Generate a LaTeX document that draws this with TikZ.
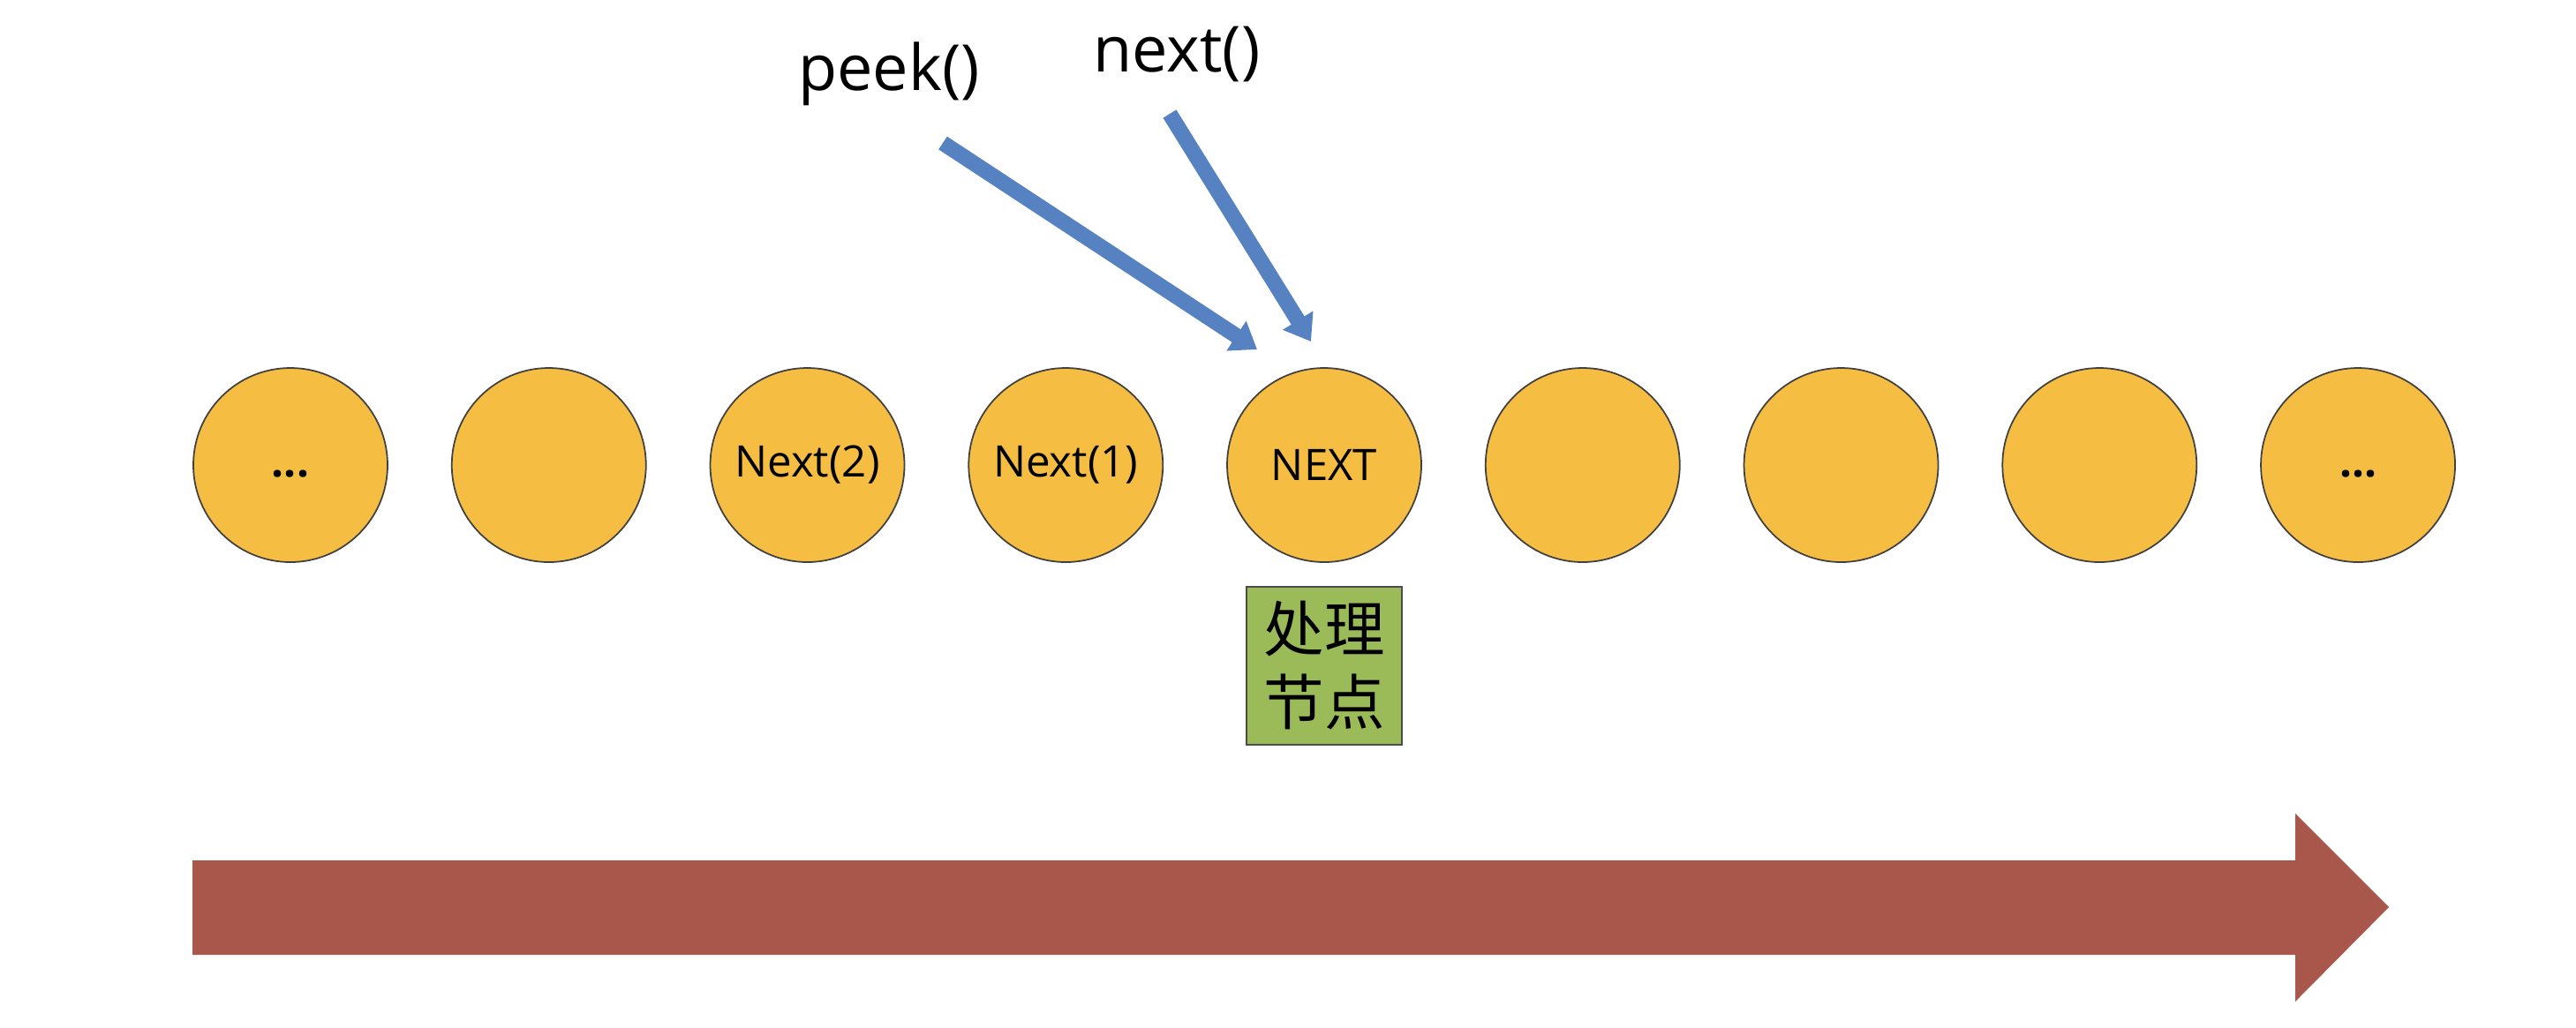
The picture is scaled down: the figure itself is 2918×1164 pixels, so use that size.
\documentclass[tikz,border=0pt]{standalone}
\usepackage{fontspec}
\setmainfont{Open Sans}
\newfontfamily\cjkfont{Noto Sans CJK SC}
\usetikzlibrary{arrows.meta,chains,positioning,scopes}
\definecolor{nodeorange}{HTML}{F5BD42}
\definecolor{procgreen}{HTML}{9BBB59}
\definecolor{ptrblue}{HTML}{5682C2}
\definecolor{flowred}{HTML}{A8574A}
\tikzset{>={Triangle[length=8pt,width=11pt]},
         elem/.style={circle,draw=black!75,line width=0.5pt,fill=nodeorange,
           minimum size=22mm,inner sep=0pt,font=\fontsize{14}{16}\selectfont,on chain},
         procbox/.style={draw=black!70,line width=0.5pt,fill=procgreen,
           minimum width=17.6mm,minimum height=17.9mm,inner sep=0pt,align=center,
           font=\cjkfont\fontsize{19.5}{23.5}\selectfont},
         ptr/.style={->,ptrblue,line width=5pt},
         calltext/.style={font=\fontsize{20.5}{24}\selectfont}}

\begin{document}
\begin{tikzpicture}[x=0.1mm,y=-0.1mm]
  \useasboundingbox (0,0) rectangle (2918,1164);
  { [start chain=going right,node distance=7.1mm]
    \node[elem] (e1) at (329,527) {\vphantom{N()}\bfseries...};
    \node[elem] (e2) {};
    \node[elem] (e3) {Next(2)};
    \node[elem] (e4) {Next(1)};
    \node[elem] (next) {NEXT};
    \node[elem] (e6) {};
    \node[elem] (e7) {};
    \node[elem] (e8) {};
    \node[elem] (e9) {\vphantom{N()}\bfseries...};
  }
  \node[procbox,below=2.6mm of next] (proc) {处理\\节点};

  \node[calltext] (peek) at (1007,84) {peek()};
  \node[calltext] (nxt) at (1333,61) {next()};
  \coordinate (peek start) at (1068,162);
  \coordinate (peek end) at (1424,396);
  \coordinate (nxt start) at (1325,129);
  \coordinate (nxt end) at (1485,387);
  \draw[ptr] (peek start) -- (peek end);
  \draw[ptr] (nxt start) -- (nxt end);

  % direction of travel
  \fill[flowred] (218,975) -- (2600,975) -- (2600,922) -- (2706,1028)
    -- (2600,1135) -- (2600,1082) -- (218,1082) -- cycle;
\end{tikzpicture}
\end{document}
